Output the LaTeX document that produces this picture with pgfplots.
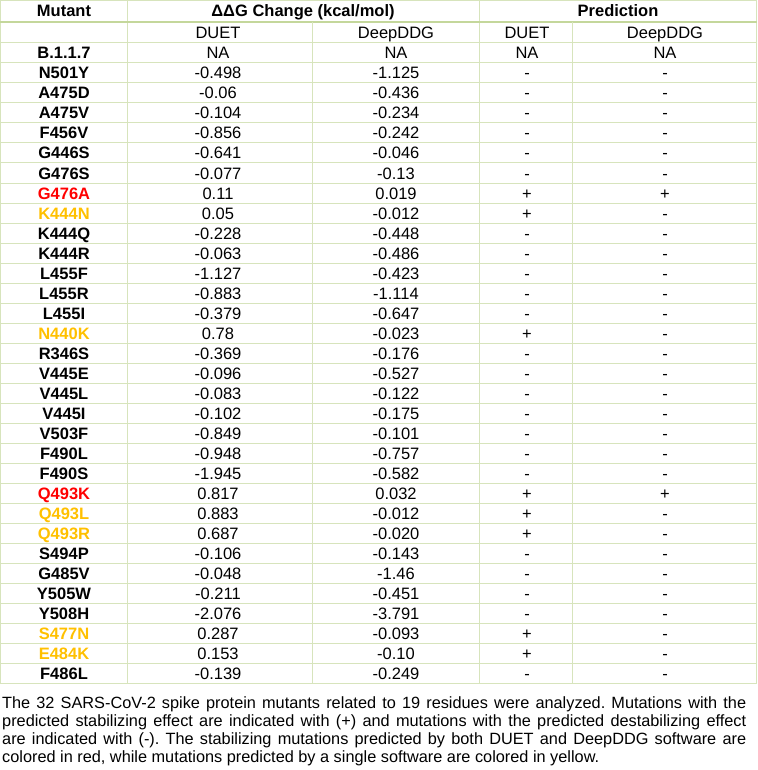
\documentclass[border=0pt]{standalone}
\usepackage{pgfplots}
\pgfplotsset{compat=1.18}
\usepackage{pgfplotstable}
\usepackage{fontspec}
\setmainfont{Liberation Sans}
\definecolor{gridc}{RGB}{215,228,188}
\definecolor{headc}{RGB}{196,215,155}
\definecolor{myred}{RGB}{255,0,0}
\definecolor{myyel}{RGB}{255,192,0}
\pgfplotstableread{
r mut dd dg pd pg cls
0 B.1.1.7 NA NA NA NA 0
1 N501Y -0.498 -1.125 - - 0
2 A475D -0.06 -0.436 - - 0
3 A475V -0.104 -0.234 - - 0
4 F456V -0.856 -0.242 - - 0
5 G446S -0.641 -0.046 - - 0
6 G476S -0.077 -0.13 - - 0
7 G476A 0.11 0.019 + + 1
8 K444N 0.05 -0.012 + - 2
9 K444Q -0.228 -0.448 - - 0
10 K444R -0.063 -0.486 - - 0
11 L455F -1.127 -0.423 - - 0
12 L455R -0.883 -1.114 - - 0
13 L455I -0.379 -0.647 - - 0
14 N440K 0.78 -0.023 + - 2
15 R346S -0.369 -0.176 - - 0
16 V445E -0.096 -0.527 - - 0
17 V445L -0.083 -0.122 - - 0
18 V445I -0.102 -0.175 - - 0
19 V503F -0.849 -0.101 - - 0
20 F490L -0.948 -0.757 - - 0
21 F490S -1.945 -0.582 - - 0
22 Q493K 0.817 0.032 + + 1
23 Q493L 0.883 -0.012 + - 2
24 Q493R 0.687 -0.020 + - 2
25 S494P -0.106 -0.143 - - 0
26 G485V -0.048 -1.46 - - 0
27 Y505W -0.211 -0.451 - - 0
28 Y508H -2.076 -3.791 - - 0
29 S477N 0.287 -0.093 + - 2
30 E484K 0.153 -0.10 + - 2
31 F486L -0.139 -0.249 - - 0
}\datatable
\pgfplotstableread{
x y lab
64 11 Mutant
303 11 {ΔΔG~Change~(kcal/mol)}
618 11 Prediction
}\headtable
\pgfplotstableread{
x y lab
218 33 DUET
396 33 DeepDDG
527 33 DUET
665 33 DeepDDG
}\subtable
\begin{document}
\begin{tikzpicture}
\begin{axis}[
  at={(0,0)}, anchor=south west,
  width=757pt, height=683pt, scale only axis,
  xmin=0, xmax=757, ymin=0, ymax=683, y dir=reverse,
  clip=false,
  axis line style={draw=none},
  tick style={draw=none},
  xtick={0.5,127,479,756.5}, xticklabels={},
  ytick={0.5,43,63,...,683}, yticklabels={},
  xmajorgrids, ymajorgrids,
  grid style={gridc, line width=1pt},
  point meta=explicit symbolic,
  nodes near coords,
  every node near coord/.append style={anchor=base, yshift=-6pt, inner sep=0pt, font=\fontsize{16.5}{18}\selectfont},
]
\addplot[headc, line width=2pt, mark=none, nodes near coords=] coordinates {(0,22.5) (757,22.5)};
\addplot[gridc, line width=1pt, mark=none, nodes near coords=] coordinates {(312,22.5) (312,683)};
\addplot[gridc, line width=1pt, mark=none, nodes near coords=] coordinates {(572,22.5) (572,683)};
% headers
\addplot[draw=none, mark=none, every node near coord/.append style={font=\fontsize{16.5}{18}\selectfont\bfseries}]
  table[x=x, y=y, meta=lab] {\headtable};
\addplot[draw=none, mark=none] table[x=x, y=y, meta=lab] {\subtable};
% mutant names
\addplot[draw=none, mark=none, every node near coord/.append style={font=\fontsize{16.5}{18}\selectfont\bfseries, text=black},
  restrict expr to domain={\thisrow{cls}}{0:0}, unbounded coords=discard]
  table[x expr=64, y expr=53+20*\thisrow{r}, meta=mut] {\datatable};
\addplot[draw=none, mark=none, every node near coord/.append style={font=\fontsize{16.5}{18}\selectfont\bfseries, text=myred},
  restrict expr to domain={\thisrow{cls}}{1:1}, unbounded coords=discard]
  table[x expr=64, y expr=53+20*\thisrow{r}, meta=mut] {\datatable};
\addplot[draw=none, mark=none, every node near coord/.append style={font=\fontsize{16.5}{18}\selectfont\bfseries, text=myyel},
  restrict expr to domain={\thisrow{cls}}{2:2}, unbounded coords=discard]
  table[x expr=64, y expr=53+20*\thisrow{r}, meta=mut] {\datatable};
% values
\addplot[draw=none, mark=none] table[x expr=218, y expr=53+20*\thisrow{r}, meta=dd] {\datatable};
\addplot[draw=none, mark=none] table[x expr=396, y expr=53+20*\thisrow{r}, meta=dg] {\datatable};
\addplot[draw=none, mark=none] table[x expr=527, y expr=53+20*\thisrow{r}, meta=pd] {\datatable};
\addplot[draw=none, mark=none] table[x expr=665, y expr=53+20*\thisrow{r}, meta=pg] {\datatable};
\end{axis}
\node[anchor=base west, inner sep=0pt, text width=744pt, align=justify,
  font=\fontsize{16.3}{18.3}\selectfont] at (2pt,-25pt)
  {\frenchspacing\hyphenpenalty=10000 The 32 SARS-CoV-2 spike protein mutants related to 19 residues were analyzed. Mutations with the\linebreak predicted stabilizing effect are indicated with (+) and mutations with the predicted destabilizing effect\linebreak are indicated with (-). The stabilizing mutations predicted by both DUET and DeepDDG software are\linebreak colored in red, while mutations predicted by a single software are colored in yellow.};
\pgfresetboundingbox
\useasboundingbox (0,-87pt) rectangle (757pt,683pt);
\end{tikzpicture}
\end{document}
